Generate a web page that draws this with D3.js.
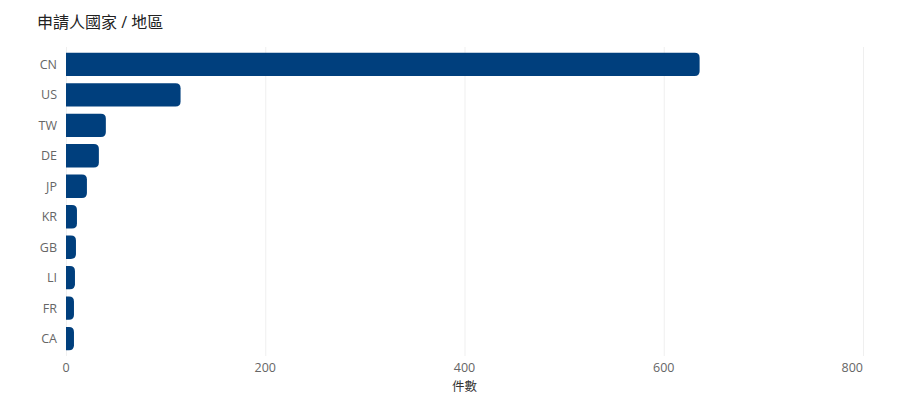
<!DOCTYPE html>
<html lang="zh-Hant">
<head>
<meta charset="UTF-8">
<title>申請人國家 / 地區</title>
<script src="https://d3js.org/d3.v7.min.js"></script>
<style>
    body { margin: 0; background: #fff; }
    svg { display: block; font-family: "Open Sans", "Noto Sans CJK TC", sans-serif; }
    .grid line { stroke: #efefef; stroke-width: 1px; }
    .tick-label { fill: #666; font-size: 12.5px; }
    .chart-title { fill: #222; font-size: 16px; font-weight: 400; }
    .axis-title { fill: #333; font-size: 12.5px; }
</style>
</head>
<body>
<svg width="900" height="416"></svg>
<script>
    // applicant country codes and counts
    const countries = ["CN", "US", "TW", "DE", "JP", "KR", "GB", "LI", "FR", "CA"];
    const counts = [636, 115, 40, 33, 21, 11, 10, 9, 8, 8];
    const xTicks = [0, 200, 400, 600, 800];

    const data = countries.map((c, i) => ({ country: c, count: counts[i] }));

    const svg = d3.select("svg");
    const margin = { top: 49, right: 37, bottom: 62, left: 66 };
    const width = 900 - margin.left - margin.right;
    const height = 416 - margin.top - margin.bottom;

    const g = svg.append("g")
        .attr("transform", `translate(${margin.left},${margin.top})`);

    const x = d3.scaleLinear().domain([0, 800]).range([0, width]);
    const y = d3.scaleBand()
        .domain(countries)
        .range([0, height])
        .paddingInner(0.235)
        .paddingOuter(0.12);

    // vertical grid
    g.append("g").attr("class", "grid")
        .selectAll("line")
        .data(xTicks)
        .join("line")
        .attr("x1", d => x(d) + 0.5)
        .attr("x2", d => x(d) + 0.5)
        .attr("y1", -2)
        .attr("y2", height + 2);

    // bars, rounded on the right end only
    const r = 5;
    g.selectAll("path.bar")
        .data(data)
        .join("path")
        .attr("class", "bar")
        .attr("fill", "#003f7d")
        .attr("d", d => {
            const x0 = x(0), x1 = x(d.count);
            const y0 = y(d.country), h = y.bandwidth();
            const rr = Math.min(r, (x1 - x0), h / 2);
            return `M${x0},${y0}H${x1 - rr}Q${x1},${y0} ${x1},${y0 + rr}` +
                `V${y0 + h - rr}Q${x1},${y0 + h} ${x1 - rr},${y0 + h}H${x0}Z`;
        });

    // y labels
    g.append("g")
        .selectAll("text")
        .data(countries)
        .join("text")
        .attr("class", "tick-label")
        .attr("x", -9)
        .attr("y", d => y(d) + y.bandwidth() / 2)
        .attr("dy", "0.35em")
        .attr("text-anchor", "end")
        .text(d => d);

    // x labels (last one kept inside the plot)
    g.append("g")
        .selectAll("text")
        .data(xTicks)
        .join("text")
        .attr("class", "tick-label")
        .attr("x", d => x(d))
        .attr("y", height + 18)
        .attr("text-anchor", (d, i) => i === xTicks.length - 1 ? "end" : "middle")
        .text(d => d);

    g.append("text")
        .attr("class", "axis-title")
        .attr("x", width / 2)
        .attr("y", height + 37)
        .attr("text-anchor", "middle")
        .text("件數");

    svg.append("text")
        .attr("class", "chart-title")
        .attr("x", 37)
        .attr("y", 28)
        .text("申請人國家 / 地區");
</script>
</body>
</html>
